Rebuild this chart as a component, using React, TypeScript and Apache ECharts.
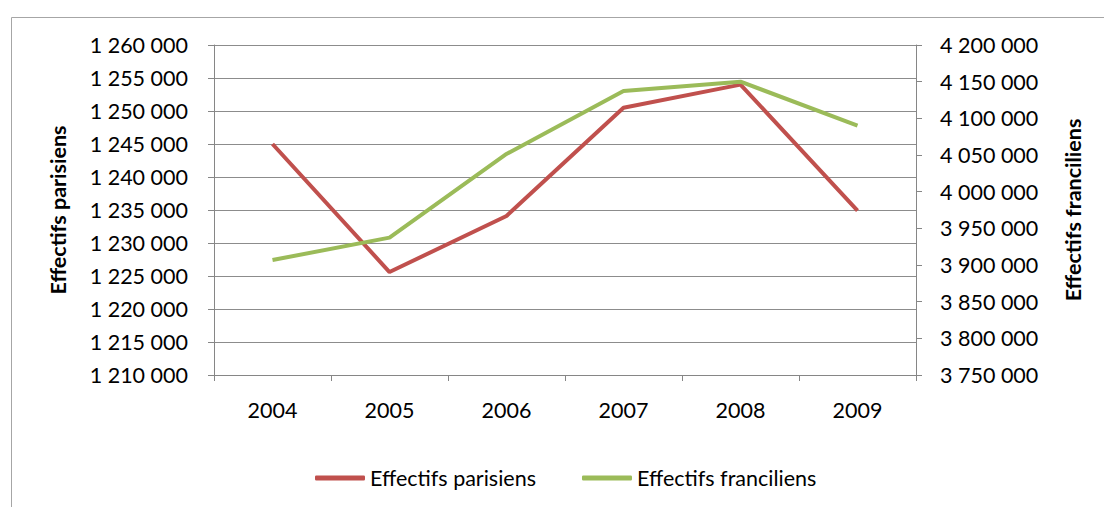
import React, { useEffect, useRef } from "react";
import * as echarts from "echarts";

const years = ["2004", "2005", "2006", "2007", "2008", "2009"];
const parisiens = [1245000, 1225600, 1234100, 1250500, 1254000, 1234900];
const franciliens = [3906800, 3937300, 4051400, 4137300, 4150000, 4090000];

const FONT = "Lato, 'Open Sans', sans-serif";
const FS = 21.5;
const fmt = (v: number) => String(v).replace(/\B(?=(\d{3})+(?!\d))/g, " ");

export default function App() {
  const ref = useRef<HTMLDivElement>(null);
  useEffect(() => {
    const chart = echarts.init(ref.current!, null, { renderer: "svg" });
    chart.setOption({
      animation: false,
      graphic: [
        {
          type: "rect",
          shape: { x: 11.5, y: 17.5, width: 1200, height: 600 },
          style: { fill: "none", stroke: "#a6a6a6", lineWidth: 1 },
          silent: true,
        },
      ],
      grid: { left: 214, right: 188, top: 45, bottom: 132, containLabel: false },
      legend: {
        bottom: 13,
        left: 310,
        itemWidth: 50,
        itemHeight: 5,
        itemGap: 46,
        icon: "roundRect",
        textStyle: { fontFamily: FONT, fontSize: FS, color: "#000" },
        data: ["Effectifs parisiens", "Effectifs franciliens"],
      },
      xAxis: {
        type: "category",
        data: years,
        boundaryGap: true,
        axisLine: { lineStyle: { color: "#868686", width: 1 } },
        axisTick: { show: true, length: 6, alignWithLabel: false, lineStyle: { color: "#868686" } },
        axisLabel: { fontFamily: FONT, fontSize: FS, color: "#000", margin: 24 },
      },
      yAxis: [
        {
          type: "value",
          min: 1210000,
          max: 1260000,
          interval: 5000,
          position: "left",
          name: "Effectifs parisiens",
          nameLocation: "middle",
          nameGap: 145,
          nameRotate: 90,
          nameTextStyle: { fontFamily: FONT, fontSize: FS, fontWeight: "bold", color: "#000" },
          axisLine: { show: true, lineStyle: { color: "#868686" } },
          axisTick: { show: true, length: 6, lineStyle: { color: "#868686" } },
          axisLabel: { fontFamily: FONT, fontSize: FS, color: "#000", margin: 26, formatter: fmt },
          splitLine: { show: true, lineStyle: { color: "#8c8c8c", width: 1 } },
        },
        {
          type: "value",
          min: 3750000,
          max: 4200000,
          interval: 50000,
          position: "right",
          name: "Effectifs franciliens",
          nameLocation: "middle",
          nameGap: 146,
          nameRotate: 90,
          nameTextStyle: { fontFamily: FONT, fontSize: FS, fontWeight: "bold", color: "#000" },
          axisLine: { show: true, lineStyle: { color: "#868686" } },
          axisTick: { show: true, length: 6, lineStyle: { color: "#868686" } },
          axisLabel: { fontFamily: FONT, fontSize: FS, color: "#000", margin: 24, formatter: fmt },
          splitLine: { show: false },
        },
      ],
      series: [
        {
          name: "Effectifs parisiens",
          type: "line",
          yAxisIndex: 0,
          data: parisiens,
          symbol: "none",
          lineStyle: { color: "#C0504D", width: 4 },
          itemStyle: { color: "#C0504D" },
        },
        {
          name: "Effectifs franciliens",
          type: "line",
          yAxisIndex: 1,
          data: franciliens,
          symbol: "none",
          lineStyle: { color: "#9BBB59", width: 4 },
          itemStyle: { color: "#9BBB59" },
        },
      ],
    });
    return () => chart.dispose();
  }, []);
  return <div ref={ref} style={{ width: 1104, height: 507, position: "absolute", left: 0, top: 0, background: "#fff" }} />;
}
